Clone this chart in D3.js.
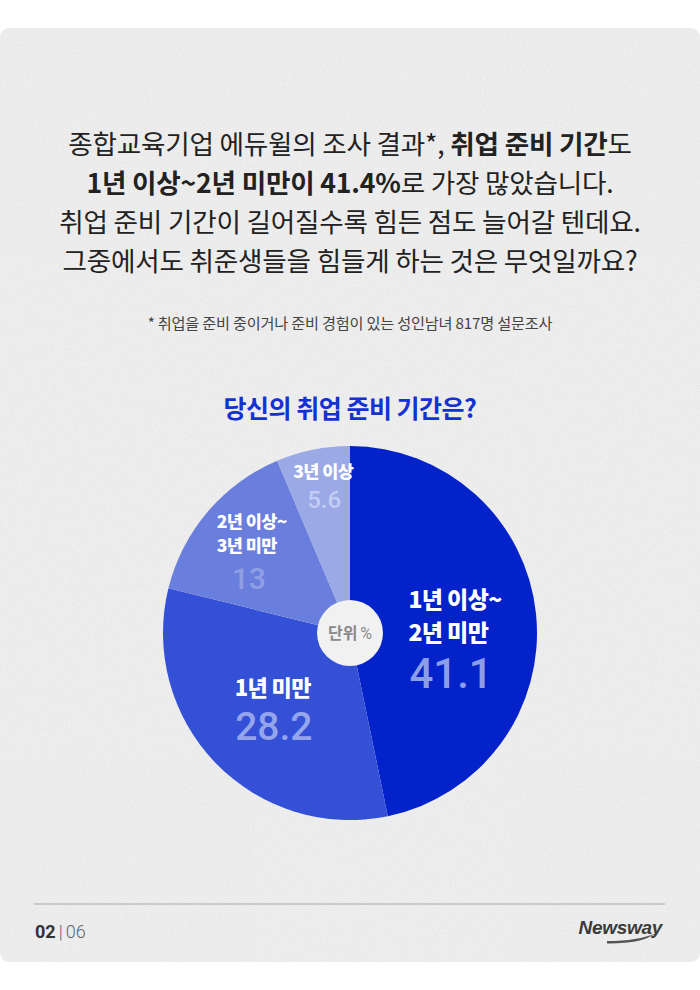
<!DOCTYPE html>
<html>
<head>
<meta charset="utf-8">
<script src="https://cdn.jsdelivr.net/npm/d3@7"></script>
<style>
  html, body { margin: 0; padding: 0; background: #fff; }
  svg { display: block; font-family: "Noto Sans CJK KR", "Noto Sans", sans-serif; }
</style>
</head>
<body>
<div id="chart"></div>
<script>
// data
const categories = ["1년 이상~\n2년 미만", "1년 미만", "2년 이상~\n3년 미만", "3년 이상"];
const values = [41.1, 28.2, 13, 5.6];
const sliceColors = ["#0422c9", "#3350d7", "#6a7fdd", "#9ba9e7"];
const valueColors = ["#8d9ee9", "#95a5ec", "#8f9fe3", "#c3ccf2"];

const introLines = [
    [["종합교육기업 에듀윌의 조사 결과*, ", 400], ["취업 준비 기간", 700], ["도", 400]],
    [["1년 이상~2년 미만이 41.4%", 700], ["로 가장 많았습니다.", 400]],
    [["취업 준비 기간이 길어질수록 힘든 점도 늘어갈 텐데요.", 400]],
    [["그중에서도 취준생들을 힘들게 하는 것은 무엇일까요?", 400]]
];
const footnote = "* 취업을 준비 중이거나 준비 경험이 있는 성인남녀 817명 설문조사";
const chartTitle = "당신의 취업 준비 기간은?";

const width = 700, height = 990;

const svg = d3.select("#chart")
    .append("svg")
    .attr("width", width)
    .attr("height", height);

// paper texture
const defs = svg.append("defs");
const noise = defs.append("filter").attr("id", "paper")
    .attr("x", 0).attr("y", 0).attr("width", "100%").attr("height", "100%");
noise.append("feTurbulence")
    .attr("type", "fractalNoise")
    .attr("baseFrequency", 0.7)
    .attr("numOctaves", 3)
    .attr("seed", 4);
noise.append("feColorMatrix")
    .attr("type", "matrix")
    .attr("values", "0 0 0 0 0.5  0 0 0 0 0.5  0 0 0 0 0.5  0 0 0 -1.6 1.1");
defs.append("clipPath").attr("id", "cardClip")
    .append("rect")
    .attr("x", 0).attr("y", 28).attr("width", width).attr("height", 934).attr("rx", 9);

svg.append("rect")
    .attr("x", 0).attr("y", 28)
    .attr("width", width).attr("height", 934)
    .attr("rx", 9)
    .attr("fill", "#efefef");
svg.append("rect")
    .attr("x", 0).attr("y", 28)
    .attr("width", width).attr("height", 934)
    .attr("clip-path", "url(#cardClip)")
    .attr("filter", "url(#paper)")
    .attr("opacity", 0.18);

// intro text
const intro = svg.append("g");
introLines.forEach((line, i) => {
    const t = intro.append("text")
        .attr("x", width / 2)
        .attr("y", 154 + i * 39)
        .attr("text-anchor", "middle")
        .attr("font-size", 26.6)
        .attr("letter-spacing", -0.2)
        .attr("fill", "#222");
    line.forEach(part => {
        t.append("tspan")
            .attr("font-weight", part[1])
            .text(part[0]);
    });
});

svg.append("text")
    .attr("x", width / 2)
    .attr("y", 329)
    .attr("text-anchor", "middle")
    .attr("font-size", 15.2)
    .attr("letter-spacing", -0.2)
    .attr("fill", "#444")
    .text(footnote);

svg.append("text")
    .attr("x", width / 2)
    .attr("y", 418)
    .attr("text-anchor", "middle")
    .attr("font-size", 25)
    .attr("font-weight", 700)
    .attr("letter-spacing", -0.5)
    .attr("fill", "#1431d3")
    .text(chartTitle);

// pie
const cx = 350, cy = 633, radius = 187;
const pie = d3.pie().sort(null).value(d => d.value);
const arc = d3.arc().innerRadius(0).outerRadius(radius);
const data = categories.map((c, i) => ({label: c, value: values[i], color: sliceColors[i], vcolor: valueColors[i]}));
const arcs = pie(data);

const g = svg.append("g").attr("transform", `translate(${cx},${cy})`);

g.selectAll("path.slice")
    .data(arcs)
    .enter().append("path")
    .attr("class", "slice")
    .attr("d", arc)
    .attr("fill", d => d.data.color);

// label layout per slice: radius of anchor, offsets, font sizes
const labelLayout = [
    {r: 103, dx: -44, anchor: "start", lines: [-15, 18], vy: 65, vdx: 1, ls: 23, vs: 42},
    {r: 103, dx: -3, anchor: "middle", lines: [-8], vy: 36, vdx: 1, ls: 22, vs: 39},
    {r: 120, dx: -42, anchor: "start", lines: [-27, -3], vy: 34, vdx: 15, ls: 17.5, vs: 30},
    {r: 150, dx: 3, anchor: "middle", lines: [-8], vy: 22, vdx: 1, ls: 17.5, vs: 24}
];

arcs.forEach((a, i) => {
    const lay = labelLayout[i];
    const [lx, ly] = d3.arc().innerRadius(lay.r).outerRadius(lay.r).centroid(a);
    const x0 = lx + lay.dx;
    a.data.label.split("\n").forEach((txt, j) => {
        g.append("text")
            .attr("x", x0)
            .attr("y", ly + lay.lines[j])
            .attr("text-anchor", lay.anchor)
            .attr("font-size", lay.ls)
            .attr("font-weight", 900)
            .attr("letter-spacing", -0.6)
            .attr("fill", "#fff")
            .text(txt);
    });
    g.append("text")
        .attr("x", x0 + lay.vdx)
        .attr("y", ly + lay.vy)
        .attr("text-anchor", lay.anchor)
        .attr("font-family", "Roboto, sans-serif")
        .attr("font-size", lay.vs)
        .attr("font-weight", 500)
        .attr("fill", a.data.vcolor)
        .text(a.data.value);
});

// centre unit badge
g.append("circle")
    .attr("r", 33)
    .attr("fill", "#f1f1f1");
const unit = g.append("text")
    .attr("y", 6)
    .attr("text-anchor", "middle")
    .attr("font-size", 16)
    .attr("fill", "#8a8a8a");
unit.append("tspan").attr("font-weight", 700).text("단위");
unit.append("tspan").attr("font-family", "Roboto, sans-serif").attr("dx", 3).text("%");

// footer
svg.append("line")
    .attr("x1", 34).attr("x2", 665)
    .attr("y1", 904).attr("y2", 904)
    .attr("stroke", "#a8a8a8")
    .attr("stroke-width", 1);

const page = svg.append("text")
    .attr("x", 35).attr("y", 938)
    .attr("font-family", "Roboto, sans-serif")
    .attr("font-size", 18)
    .attr("fill", "#333");
page.append("tspan").attr("font-weight", 700).text("02");
page.append("tspan").attr("dx", 3).attr("fill", "#666").attr("font-weight", 300).text("|");
page.append("tspan").attr("dx", 3).attr("fill", "#666").attr("font-weight", 300).text("06");

svg.append("text")
    .attr("x", 662).attr("y", 934)
    .attr("text-anchor", "end")
    .attr("font-family", "Liberation Sans, sans-serif")
    .attr("font-style", "italic")
    .attr("font-weight", 700)
    .attr("font-size", 19)
    .attr("letter-spacing", -0.3)
    .attr("fill", "#3b3b3b")
    .text("Newsway");
svg.append("path")
    .attr("d", "M607,941 Q638,941 656,933 Q642,944 607,943.5 Z")
    .attr("fill", "#555");
</script>
</body>
</html>
